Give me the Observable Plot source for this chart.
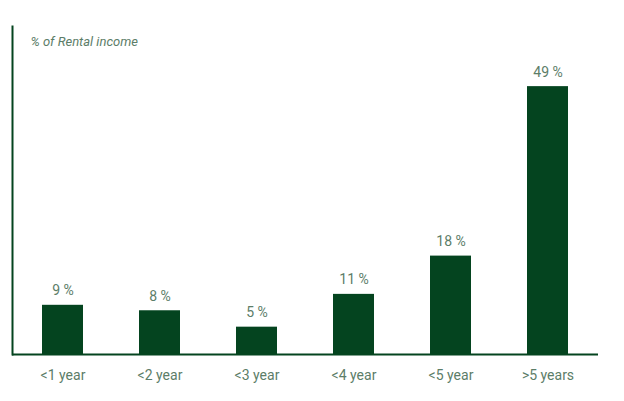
<!DOCTYPE html>
<html>
<head>
<meta charset="utf-8">
<script src="https://cdn.jsdelivr.net/npm/d3@7"></script>
<script src="https://cdn.jsdelivr.net/npm/@observablehq/plot@0.6"></script>
<style>
  html, body { margin: 0; padding: 0; background: #ffffff; }
  svg { display: block; background: linear-gradient(#ffffff 0 10px, #f9fbf9 10px); }
</style>
</head>
<body>
<div id="chart"></div>
<script>
const categories = ["<1 year", "<2 year", "<3 year", "<4 year", "<5 year", ">5 years"];
const shares = [9, 8, 5, 11, 18, 49];
const yLabel = "% of Rental income";

const data = categories.map((c, i) => ({ category: c, value: shares[i] }));

const green = "#04441f";
const textColor = "#5c7d68";

const chart = Plot.plot({
  width: 624,
  height: 401,
  marginLeft: 12,
  marginRight: 26,
  marginTop: 26,
  marginBottom: 47,
  style: { fontFamily: "Roboto, sans-serif", fontSize: "14px", color: textColor, background: "transparent" },
  x: { domain: categories, padding: 0.58, paddingOuter: 0.28, label: null },
  y: { domain: [0, 60], axis: null },
  marks: [
    Plot.barY(data, { x: "category", y: "value", fill: green }),
    Plot.text(data, {
      x: "category", y: "value",
      text: d => `${d.value} %`,
      lineAnchor: "bottom", dy: -10,
      fill: textColor, fontSize: 14
    }),
    Plot.frame({ anchor: "left", stroke: green, strokeWidth: 2 }),
    Plot.ruleY([0], { stroke: green, strokeWidth: 2 }),
    Plot.axisX({ tickSize: 0, tickPadding: 16, fontSize: 14, fill: textColor, label: null }),
    Plot.text([yLabel], {
      frameAnchor: "top-left", dx: 18, dy: 10,
      textAnchor: "start", fontStyle: "italic", fontSize: 13, fill: textColor
    })
  ]
});
document.getElementById("chart").appendChild(chart);
</script>
</body>
</html>
